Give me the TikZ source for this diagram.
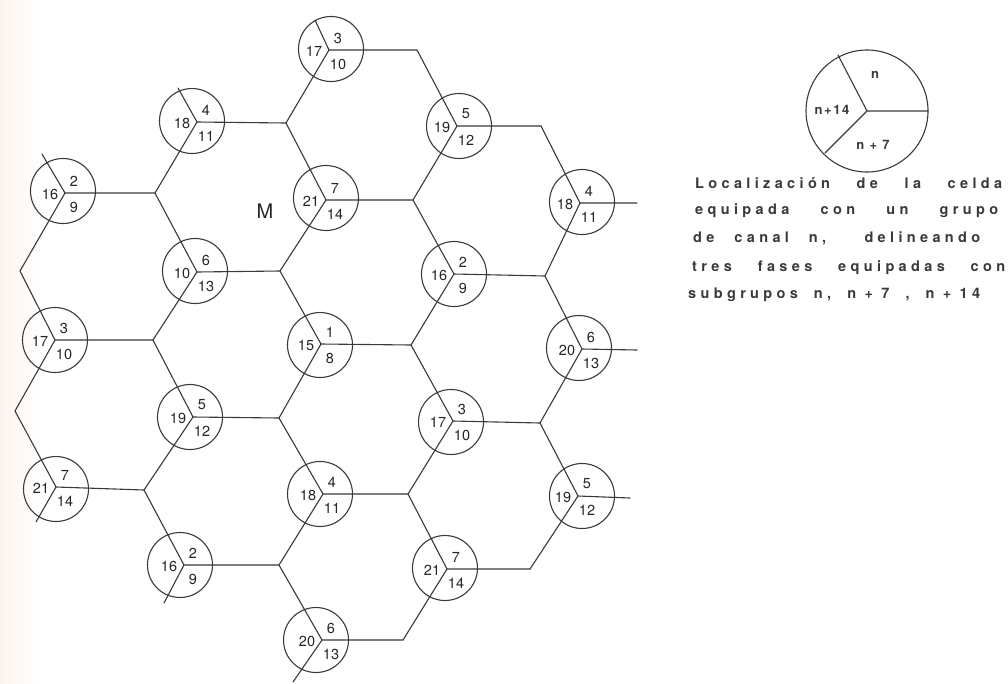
\documentclass[tikz,border=0pt]{standalone}
\usepackage{fontspec}
\setmainfont{TeX Gyre Heros}
\newfontfamily\legfont[LetterSpace=30]{TeX Gyre Heros Bold}
\newfontfamily\labfont[LetterSpace=12]{TeX Gyre Heros Bold}
\definecolor{ink}{HTML}{3A3A3A}
\definecolor{tint}{HTML}{FBF4EC}
\tikzset{
  wire/.style={draw=ink,line width=1.1pt,line cap=round},
  cellring/.style={circle,draw=ink,line width=1.1pt,minimum size=65pt,inner sep=0pt},
  num/.style={text=black!85,font=\fontsize{14.5}{15}\selectfont,inner sep=0pt},
  legnum/.style={text=ink,font=\fontsize{13}{14}\selectfont\labfont,inner sep=0pt},
  legline/.style={text=ink,font=\fontsize{14.5}{15}\selectfont\legfont,inner sep=0pt,anchor=base west},
}
% name, circle centre x y, hub x y, left, upper, lower
\newcommand{\cellunit}[8]{%
  \node[cellring] (c#1) at (#2,#3) {};
  \coordinate (h#1) at (#4,#5);
  \node[num] (l#1) at (#4-15,#5+1) {#6};
  \node[num] (u#1) at (#4+9,#5-12) {#7};
  \node[num] (d#1) at (#4+9,#5+14) {#8};
}
\begin{document}
\begin{tikzpicture}[x=1pt,y=-1pt]
\useasboundingbox (0,0) rectangle (1008,683);
\fill[white] (0,0) rectangle (1008,683);
\shade[left color=tint,right color=white,draw=none] (0,0) rectangle (42,683);
% cells
\cellunit{a}{331}{49}{329}{50}{17}{3}{10}
\cellunit{b}{192}{121}{197}{122}{18}{4}{11}
\cellunit{c}{63}{191}{65}{193}{16}{2}{9}
\cellunit{d}{195}{271}{197}{272}{10}{6}{13}
\cellunit{e}{326}{198}{326}{200}{21}{7}{14}
\cellunit{f}{459}{126}{457}{126}{19}{5}{12}
\cellunit{g}{55}{340}{55}{340}{17}{3}{10}
\cellunit{i}{190}{417}{193}{417}{19}{5}{12}
\cellunit{k}{320}{345}{321}{344}{15}{1}{8}
\cellunit{m}{454}{274}{454}{274}{16}{2}{9}
\cellunit{o}{582}{202}{580}{203}{18}{4}{11}
\cellunit{p}{579}{348}{582}{349}{20}{6}{13}
\cellunit{q}{56}{489}{56}{487}{21}{7}{14}
\cellunit{r}{320}{494}{323}{494}{18}{4}{11}
\cellunit{s}{451}{422}{453}{421}{17}{3}{10}
\cellunit{t}{582}{496}{578}{496}{19}{5}{12}
\cellunit{v}{180}{565}{184}{565}{16}{2}{9}
\cellunit{w}{445}{568}{447}{569}{21}{7}{14}
\cellunit{x}{316}{640}{322}{640}{20}{6}{13}
% junctions
\coordinate (j1) at (155,193);
\coordinate (j2) at (286,123);
\coordinate (j3) at (280,271);
\coordinate (j4) at (153,340);
\coordinate (j5) at (279,418);
\coordinate (j6) at (144,490);
\coordinate (j7) at (279,565);
\coordinate (j8) at (417,50);
\coordinate (j9) at (413,200);
\coordinate (j10) at (541,126);
\coordinate (j11) at (545,276);
\coordinate (j12) at (411,345);
\coordinate (j13) at (540,423);
\coordinate (j14) at (408,494);
\coordinate (j15) at (530,569);
\coordinate (j16) at (403,640);
\coordinate (j17) at (20,271);
\coordinate (j18) at (15,411);
% free ends
\coordinate (s1) at (178,88);
\coordinate (s2) at (315,20);
\coordinate (s3) at (42,154);
\coordinate (s4) at (36,522);
\coordinate (s5) at (164,603);
\coordinate (s6) at (293,682);
\coordinate (s7) at (637,203);
\coordinate (s8) at (637,350);
\coordinate (s9) at (630,498);
% connectors
\draw[wire] (s3) -- (hc) -- (j1); \draw[wire] (hc) -- (j17);
\draw[wire] (s1) -- (hb) -- (j2); \draw[wire] (hb) -- (j1);
\draw[wire] (s2) -- (ha) -- (j8); \draw[wire] (ha) -- (j2);
\draw[wire] (j1) -- (hd) -- (j3); \draw[wire] (hd) -- (j4);
\draw[wire] (j2) -- (he) -- (j9); \draw[wire] (he) -- (j3);
\draw[wire] (j8) -- (hf) -- (j10); \draw[wire] (hf) -- (j9);
\draw[wire] (j17) -- (hg) -- (j4); \draw[wire] (hg) -- (j18);
\draw[wire] (j4) -- (hi) -- (j5); \draw[wire] (hi) -- (j6);
\draw[wire] (j3) -- (hk) -- (j12); \draw[wire] (hk) -- (j5);
\draw[wire] (j9) -- (hm) -- (j11); \draw[wire] (hm) -- (j12);
\draw[wire] (j10) -- (ho) -- (s7); \draw[wire] (ho) -- (j11);
\draw[wire] (j11) -- (hp) -- (s8); \draw[wire] (hp) -- (j13);
\draw[wire] (j18) -- (hq) -- (j6); \draw[wire] (hq) -- (s4);
\draw[wire] (j5) -- (hr) -- (j14); \draw[wire] (hr) -- (j7);
\draw[wire] (j12) -- (hs) -- (j13); \draw[wire] (hs) -- (j14);
\draw[wire] (j13) -- (ht) -- (s9); \draw[wire] (ht) -- (j15);
\draw[wire] (j6) -- (hv) -- (j7); \draw[wire] (hv) -- (s5);
\draw[wire] (j14) -- (hw) -- (j15); \draw[wire] (hw) -- (j16);
\draw[wire] (j7) -- (hx) -- (j16); \draw[wire] (hx) -- (s6);
% centre letter
\node[text=black!85,font=\fontsize{20}{21}\selectfont,inner sep=0pt] (mm) at (265,211) {M};
% legend
\node[cellring,minimum size=122pt] (lc) at (867,111) {};
\coordinate (lh) at (867,111);
\coordinate (la) at (838,55);
\coordinate (lb) at (928,111);
\coordinate (ld) at (825,153);
\draw[wire] (la) -- (lh) -- (lb);
\draw[wire] (lh) -- (ld);
\node[legnum] (ln) at (875,75) {n};
\node[legnum] (lp) at (832,110) {n+14};
\node[legnum] (lq) at (873,145) {n + 7};
\node[legline] (t1) at (695,188) {\makebox[307pt][s]{Localización\hfill de\hfill la\hfill celda}};
\node[legline] (t2) at (695,214) {\makebox[303pt][s]{equipada\hfill con\hfill un\hfill grupo}};
\node[legline] (t3) at (693,242) {\makebox[287pt][s]{de\hspace{20pt}canal\hspace{20pt}n,\hfill delineando}};
\node[legline] (t4) at (692,271) {\makebox[313pt][s]{tres\hfill fases\hfill equipadas\hfill con}};
\node[legline] (t5) at (688,298) {\makebox[292pt][s]{subgrupos\hfill n,\hfill n + 7\hfill ,\hfill n + 14}};
\end{tikzpicture}
\end{document}
